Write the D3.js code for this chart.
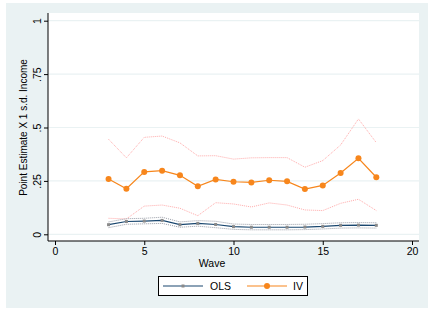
<!DOCTYPE html>
<html><head><meta charset="utf-8">
<script src="https://cdn.jsdelivr.net/npm/d3@7"></script>
<style>body{margin:0;background:#fff}svg{display:block;font-family:"Liberation Sans",Arial,sans-serif}</style>
</head><body><svg id="c" width="428" height="309"></svg>
<script>
const waves = [3,4,5,6,7,8,9,10,11,12,13,14,15,16,17,18];
const ivEst = [0.259,0.213,0.292,0.298,0.276,0.225,0.257,0.246,0.243,0.253,0.248,0.212,0.229,0.287,0.356,0.267];
const ivUpper = [0.445,0.358,0.454,0.460,0.428,0.367,0.368,0.352,0.358,0.359,0.359,0.314,0.345,0.418,0.540,0.429];
const ivLower = [0.075,0.072,0.132,0.137,0.122,0.087,0.148,0.142,0.128,0.147,0.137,0.114,0.111,0.145,0.164,0.111];
const olsEst = [0.045,0.060,0.062,0.065,0.045,0.051,0.046,0.036,0.033,0.033,0.033,0.034,0.037,0.042,0.043,0.042];
const olsUpper = [0.058,0.073,0.075,0.080,0.058,0.064,0.061,0.048,0.046,0.046,0.046,0.047,0.050,0.054,0.055,0.054];
const olsLower = [0.031,0.047,0.049,0.051,0.033,0.038,0.031,0.023,0.021,0.021,0.021,0.022,0.025,0.029,0.030,0.029];
const xTicks = [0,5,10,15,20];
const yTicks = [0,0.25,0.5,0.75,1];
const yTickLabels = ["0",".25",".5",".75","1"];

const svg = d3.select("#c");
svg.append("rect").attr("x",6).attr("y",3).attr("width",422).attr("height",305).attr("fill","#eaf2f3");
svg.append("rect").attr("x",48).attr("y",13).attr("width",371).attr("height",228).attr("fill","#fff");

const x = d3.scaleLinear().domain([0,20]).range([55,412]);
const y = d3.scaleLinear().domain([0,1]).range([234.3,20.7]);

// gridlines
svg.append("g").selectAll("line").data(yTicks).join("line")
  .attr("x1",48).attr("x2",419).attr("y1",d=>y(d)).attr("y2",d=>y(d))
  .attr("stroke","#eaf2f3").attr("stroke-width",1.2);

// axes
const yAxis = d3.axisLeft(y).tickValues(yTicks).tickSize(4).tickFormat((d,i)=>yTickLabels[i]);
const gy = svg.append("g").attr("transform","translate(48,0)").call(yAxis);
gy.select(".domain").attr("d","M0,13V241").attr("stroke","#000");
gy.selectAll(".tick line").attr("stroke","#000");
gy.selectAll(".tick text").attr("transform","rotate(-90)").attr("x",0).attr("y",-7)
  .attr("dy",0).attr("text-anchor","middle").attr("font-size",10.5).attr("fill","#000");

const xAxis = d3.axisBottom(x).tickValues(xTicks).tickSize(4).tickFormat(d3.format("d"));
const gx = svg.append("g").attr("transform","translate(0,241)").call(xAxis);
gx.select(".domain").attr("d","M48,0H419").attr("stroke","#000");
gx.selectAll(".tick line").attr("stroke","#000");
gx.selectAll(".tick text").attr("y",14).attr("dy",0).attr("font-size",10.5).attr("fill","#000");
gy.attr("font-family",null); gx.attr("font-family",null);

svg.append("text").attr("x",212).attr("y",266.5).attr("text-anchor","middle").attr("font-size",10.5).text("Wave");
svg.append("text").attr("transform","translate(27,127.5) rotate(-90)").attr("text-anchor","middle")
  .attr("font-size",10).text("Point Estimate X 1 s.d. Income");

const line = arr => d3.line().x((d,i)=>x(waves[i])).y(d=>y(d))(arr);

// CIs
svg.append("path").attr("d",line(ivUpper)).attr("fill","none").attr("stroke","#ffaaaa").attr("stroke-width",1).attr("stroke-dasharray","1,1");
svg.append("path").attr("d",line(ivLower)).attr("fill","none").attr("stroke","#ffaaaa").attr("stroke-width",1).attr("stroke-dasharray","1,1");
svg.append("path").attr("d",line(olsUpper)).attr("fill","none").attr("stroke","#9a9ea8").attr("stroke-width",1).attr("stroke-dasharray","1,1");
svg.append("path").attr("d",line(olsLower)).attr("fill","none").attr("stroke","#9a9ea8").attr("stroke-width",1).attr("stroke-dasharray","1,1");

// OLS
svg.append("path").attr("d",line(olsEst)).attr("fill","none").attr("stroke","#1a476f").attr("stroke-width",1.2);
svg.append("g").selectAll("rect").data(olsEst).join("rect")
  .attr("x",(d,i)=>x(waves[i])-1.5).attr("y",d=>y(d)-1.5).attr("width",3).attr("height",3).attr("fill","#8a8a8a");

// IV
const orange = "#f7861c";
svg.append("path").attr("d",line(ivEst)).attr("fill","none").attr("stroke",orange).attr("stroke-width",1.2);
svg.append("g").selectAll("circle").data(ivEst).join("circle")
  .attr("cx",(d,i)=>x(waves[i])).attr("cy",d=>y(d)).attr("r",3).attr("fill",orange);

// legend
const lg = svg.append("g");
lg.append("rect").attr("x",158.5).attr("y",276.5).attr("width",149).attr("height",19).attr("fill","#fff").attr("stroke","#000").attr("stroke-width",1);
lg.append("line").attr("x1",163).attr("x2",203).attr("y1",286).attr("y2",286).attr("stroke","#1a476f").attr("stroke-width",1.2);
lg.append("rect").attr("x",181.5).attr("y",284.5).attr("width",3).attr("height",3).attr("fill","#8a8a8a");
lg.append("text").attr("x",210).attr("y",289.5).attr("font-size",10.5).text("OLS");
lg.append("line").attr("x1",247).attr("x2",287).attr("y1",286).attr("y2",286).attr("stroke",orange).attr("stroke-width",1.2);
lg.append("circle").attr("cx",267).attr("cy",286).attr("r",3).attr("fill",orange);
lg.append("text").attr("x",293).attr("y",289.5).attr("font-size",10.5).text("IV");
</script></body></html>
